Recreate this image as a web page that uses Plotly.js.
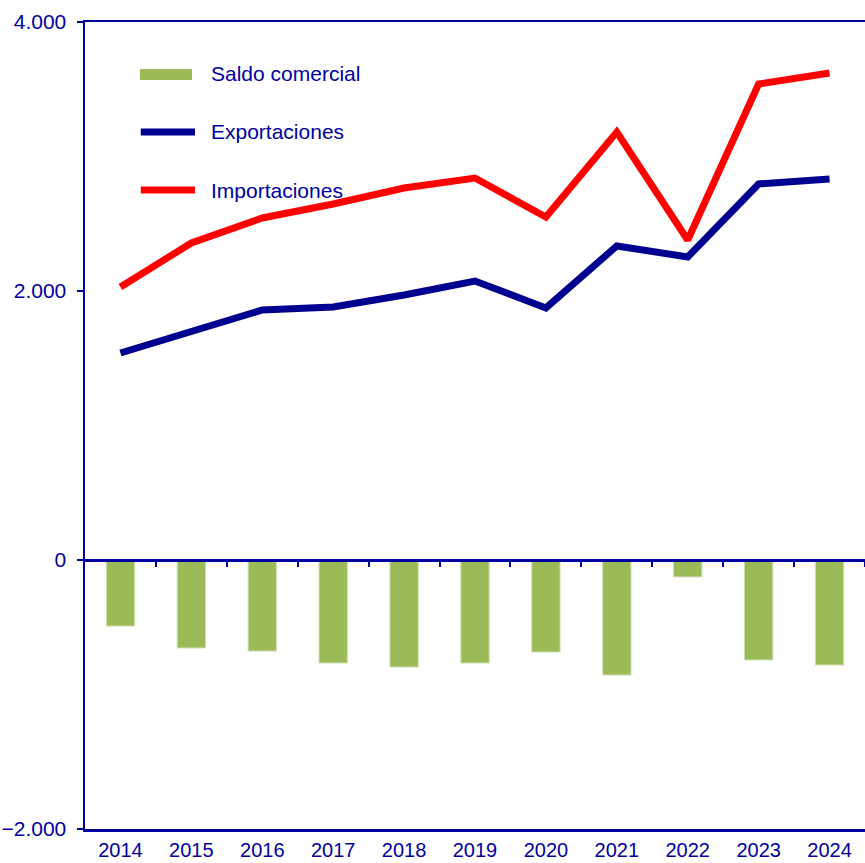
<!DOCTYPE html>
<html>
<head>
<meta charset="utf-8">
<script src="https://cdn.plot.ly/plotly-3.0.1.min.js"></script>
<style>html,body{margin:0;padding:0;background:#fff;}#chart{width:865px;height:863px;}</style>
</head>
<body>
<div id="chart"></div>
<script>
const years = [2014, 2015, 2016, 2017, 2018, 2019, 2020, 2021, 2022, 2023, 2024];
const saldo = [-491, -654, -677, -766, -796, -766, -684, -855, -126, -743, -781];
const exportaciones = [1539, 1703, 1859, 1881, 1970, 2074, 1874, 2335, 2253, 2796, 2833];
const importaciones = [2030, 2357, 2543, 2647, 2766, 2840, 2550, 3182, 2379, 3539, 3621];
const yTicks = [-2000, 0, 2000, 4000];
const seriesNames = ['Saldo comercial', 'Exportaciones', 'Importaciones'];

const axisColor = '#0000A0';
const green = '#9BBB59', blue = '#000090', red = '#FF0000';
const font = {family: 'Liberation Sans, Arial, sans-serif', size: 21, color: axisColor};
const xFont = {family: 'Liberation Sans, Arial, sans-serif', size: 20, color: axisColor};

const traces = [
  {type: 'bar', name: seriesNames[0], x: years, y: saldo, xaxis: 'x2', yaxis: 'y',
   width: 0.4, marker: {color: green, line: {color: '#cfe0b0', width: 1}}},
  {type: 'scatter', mode: 'lines', name: seriesNames[1], x: years, y: exportaciones,
   line: {color: blue, width: 7}},
  {type: 'scatter', mode: 'lines', name: seriesNames[2], x: years, y: importaciones,
   line: {color: red, width: 7}}
];

// custom legend (swatches + labels) placed in paper coordinates
const legendRowsY = [0.9356, 0.8637, 0.7918];
const legendShapes = [
  {type: 'rect', xref: 'paper', yref: 'paper', x0: 0.0705, x1: 0.1372, y0: 0.9281, y1: 0.9418,
   fillcolor: green, line: {width: 0}},
  {type: 'line', xref: 'paper', yref: 'paper', x0: 0.0715, x1: 0.1410, y0: legendRowsY[1], y1: legendRowsY[1],
   line: {color: blue, width: 7}},
  {type: 'line', xref: 'paper', yref: 'paper', x0: 0.0715, x1: 0.1410, y0: legendRowsY[2], y1: legendRowsY[2],
   line: {color: red, width: 7}}
];
const legendAnn = seriesNames.map((n, i) => ({
  text: n, xref: 'paper', yref: 'paper', x: 0.159, y: legendRowsY[i],
  xanchor: 'left', yanchor: 'middle', showarrow: false, font: font
}));

const layout = {
  width: 865, height: 863,
  margin: {l: 85, r: 0, t: 22, b: 34},
  paper_bgcolor: '#fff', plot_bgcolor: '#fff',
  separators: ',.',
  font: font,
  showlegend: false,
  shapes: legendShapes,
  annotations: legendAnn,
  xaxis: {type: 'linear', range: [2013.5, 2024.5], tickvals: years, ticktext: years.map(String),
          showline: true, linecolor: axisColor, linewidth: 2.5, mirror: true, ticks: '',
          showgrid: false, zeroline: false, ticklabelstandoff: 1, tickfont: xFont},
  xaxis2: {type: 'linear', overlaying: 'x', anchor: 'free', position: 1/3, side: 'bottom',
           range: [2013.5, 2024.5], tickvals: years.map(v => v + 0.5), showticklabels: false,
           showline: true, linecolor: axisColor, linewidth: 2.5, ticks: 'outside', ticklen: 5,
           tickwidth: 2, tickcolor: axisColor, showgrid: false, zeroline: false},
  yaxis: {range: [-2000, 4000], tickvals: yTicks, tickformat: ',d', showline: true,
          linecolor: axisColor, linewidth: 2.5, ticks: 'outside', ticklen: 6, tickwidth: 2.5,
          tickcolor: axisColor, showgrid: false, zeroline: false, ticklabelstandoff: 6,
          tickfont: font}
};

Plotly.newPlot('chart', traces, layout, {staticPlot: true});
</script>
</body>
</html>
